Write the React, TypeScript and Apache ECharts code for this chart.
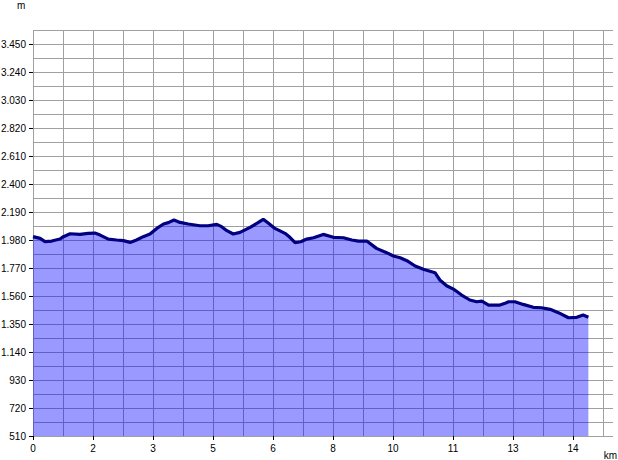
import React, { useEffect, useRef } from "react";
import * as echarts from "echarts";

// distance along the route (km)
const distanceKm = [
  0, 0.19, 0.32, 0.5, 0.72, 0.81, 0.99, 1.25, 1.47, 1.65, 1.79, 2.01, 2.23, 2.41, 2.59, 2.76, 2.94,
  3.12, 3.3, 3.48, 3.61, 3.76, 3.92, 4.14, 4.45, 4.67, 4.9, 5.03, 5.17, 5.34, 5.52, 5.79, 6.01,
  6.14, 6.28, 6.45, 6.72, 6.85, 6.99, 7.14, 7.3, 7.48, 7.74, 8.01, 8.28, 8.5, 8.68, 8.9, 9.16,
  9.43, 9.61, 9.79, 9.97, 10.19, 10.41, 10.72, 10.85, 11.03, 11.21, 11.43, 11.65, 11.83, 11.97,
  12.15, 12.45, 12.59, 12.68, 12.85, 13.07, 13.34, 13.56, 13.79, 14.01, 14.28, 14.5, 14.67, 14.81,
];
// elevation (m)
const elevationM = [
  2005, 1992, 1968, 1972, 1987, 2005, 2027, 2022, 2030, 2032, 2017, 1987, 1980, 1975, 1962, 1980, 2005,
  2025, 2067, 2100, 2110, 2130, 2112, 2100, 2087, 2087, 2097, 2080, 2050, 2025, 2037, 2075, 2112,
  2135, 2105, 2067, 2030, 2000, 1960, 1967, 1987, 1997, 2022, 2000, 1997, 1980, 1972, 1972, 1917,
  1885, 1860, 1847, 1825, 1785, 1760, 1735, 1680, 1637, 1612, 1567, 1530, 1517, 1522,
  1492, 1492, 1505, 1517, 1517, 1497, 1475, 1472, 1460, 1435, 1397, 1400, 1417, 1400,
];

const xLabelTicks = [0, 1.6, 3.2, 4.8, 6.4, 8, 9.6, 11.2, 12.8, 14.4];
const yLabelTicks = [510, 720, 930, 1140, 1350, 1560, 1770, 1980, 2190, 2400, 2610, 2820, 3030, 3240, 3450];

const FONT = "Liberation Sans";
const X_MAX = 580 / 37.5;

function fmtY(v: number): string {
  const n = Math.round(v);
  if (n >= 1000) {
    return Math.floor(n / 1000) + "." + String(n % 1000).padStart(3, "0");
  }
  return String(n);
}

export default function App() {
  const ref = useRef<HTMLDivElement>(null);

  useEffect(() => {
    if (!ref.current) return;
    const chart = echarts.init(ref.current, null, { renderer: "svg" });
    const data = distanceKm.map((d, i) => [d, elevationM[i]]);
    const labelStyle = {
      margin: 7,
      color: "#000000",
      fontFamily: FONT,
      fontSize: 10,
    };
    chart.setOption({
      animation: false,
      backgroundColor: "#ffffff",
      grid: {
        left: 33,
        top: 30,
        width: 580,
        height: 406,
        containLabel: false,
        outerBoundsMode: "none",
      },
      xAxis: [
        {
          type: "value",
          min: 0,
          max: X_MAX,
          interval: 0.8,
          axisLine: { show: false },
          axisTick: { show: false },
          axisLabel: {
            ...labelStyle,
            customValues: xLabelTicks,
            formatter: (v: number) => String(Math.round(v)),
          },
          splitLine: {
            show: true,
            showMaxLine: false,
            lineStyle: { color: "#a0a0a0", width: 1 },
          },
        },
        {
          type: "value",
          position: "bottom",
          min: 0,
          max: X_MAX,
          interval: 0.8,
          axisLine: { show: false },
          axisTick: {
            show: true,
            customValues: xLabelTicks,
            length: 4,
            lineStyle: { color: "#000000", width: 1 },
          },
          axisLabel: { show: false },
          splitLine: { show: false },
        },
      ],
      yAxis: [
        {
          type: "value",
          min: 510,
          max: 3555,
          interval: 105,
          axisLine: { show: false },
          axisTick: { show: false },
          axisLabel: {
            ...labelStyle,
            customValues: yLabelTicks,
            formatter: (v: number) => fmtY(v),
          },
          splitLine: {
            show: true,
            lineStyle: { color: "#a0a0a0", width: 1 },
          },
        },
        {
          type: "value",
          position: "left",
          min: 510,
          max: 3555,
          interval: 105,
          axisLine: { show: false },
          axisTick: {
            show: true,
            customValues: yLabelTicks,
            length: 4,
            lineStyle: { color: "#000000", width: 1 },
          },
          axisLabel: { show: false },
          splitLine: { show: false },
        },
      ],
      graphic: [
        {
          type: "text",
          left: 17,
          top: 0,
          style: { text: "m", fill: "#000000", font: `10px "${FONT}"` },
        },
        {
          type: "text",
          right: 1,
          top: 450,
          style: { text: "km", fill: "#000000", font: `10px "${FONT}"` },
        },
      ],
      series: [
        {
          type: "line",
          xAxisIndex: 0,
          yAxisIndex: 0,
          data,
          showSymbol: false,
          symbol: "none",
          smooth: false,
          lineStyle: { color: "#000080", width: 3.2 },
          areaStyle: { color: "#0000ff", opacity: 0.4, origin: "start" },
        },
      ],
    });
    return () => chart.dispose();
  }, []);

  return (
    <div
      ref={ref}
      style={{ position: "fixed", left: 0, top: 0, width: 618, height: 460 }}
    />
  );
}
